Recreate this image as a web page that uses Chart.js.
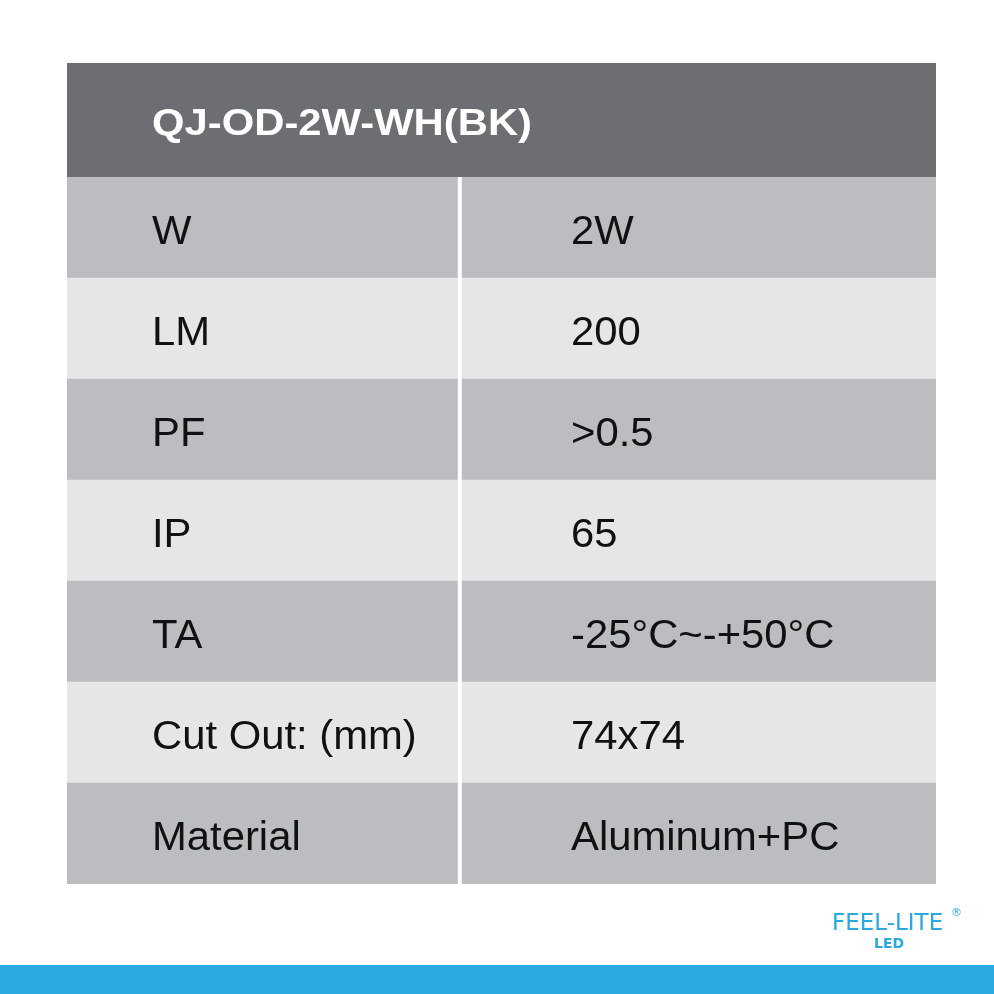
<!DOCTYPE html>
<html>
<head>
<meta charset="utf-8">
<script src="https://cdn.jsdelivr.net/npm/chart.js@4"></script>
<style>
  html, body { margin: 0; padding: 0; background: #ffffff; }
  #wrap { position: relative; width: 994px; height: 994px; }
</style>
</head>
<body>
<div id="wrap"><canvas id="specChart" width="994" height="994"></canvas></div>
<script>
const title = 'QJ-OD-2W-WH(BK)';
const rowLabels = ['W', 'LM', 'PF', 'IP', 'TA', 'Cut Out: (mm)', 'Material'];
const rowValues = ['2W', '200', '>0.5', '65', '-25°C~-+50°C', '74x74', 'Aluminum+PC'];
const labelColumn = [0.452, 0.452, 0.452, 0.452, 0.452, 0.452, 0.452];
const valueColumn = [0.548, 0.548, 0.548, 0.548, 0.548, 0.548, 0.548];

const HEADER = '#6d6e71';
const DARK = '#bcbdc0';
const LIGHT = '#e6e6e7';
const rowColors = rowLabels.map((_, i) => i % 2 === 0 ? DARK : LIGHT);

const tablePlugin = {
  id: 'spec_table',
  beforeDatasetsDraw: function(chart) {
    const ctx = chart.ctx;
    const a = chart.chartArea;
    const y = chart.scales.y;
    const headerBottom = y.getPixelForValue(0) - (y.getPixelForValue(1) - y.getPixelForValue(0)) / 2;
    ctx.save();
    ctx.fillStyle = HEADER;
    ctx.fillRect(a.left, 63, a.right - a.left, headerBottom - 63);
    ctx.fillStyle = '#ffffff';
    ctx.font = 'bold 37px "Liberation Sans", Arial, sans-serif';
    ctx.textBaseline = 'middle';
    // glyphs in the picture are a little wider than the font
    ctx.translate(152, (63 + headerBottom) / 2 + 5);
    ctx.scale(1.13, 1);
    ctx.fillText(title, 0, 0);
    ctx.restore();
  },
  afterDatasetsDraw: function(chart) {
    const ctx = chart.ctx;
    const a = chart.chartArea;
    const x = chart.scales.x;
    const y = chart.scales.y;
    const divX = x.getPixelForValue(labelColumn[0]);
    ctx.save();
    ctx.fillStyle = '#ffffff';
    ctx.fillRect(divX - 2, a.top, 4, a.bottom - a.top);
    ctx.fillStyle = '#111111';
    ctx.font = '40px "Liberation Sans", Arial, sans-serif';
    ctx.textBaseline = 'middle';
    rowLabels.forEach((lab, i) => {
      const py = y.getPixelForValue(i) + 5;
      ctx.save();
      ctx.translate(152, py);
      ctx.scale(1.045, 1);
      ctx.fillText(lab, 0, 0);
      ctx.restore();
      ctx.save();
      ctx.translate(571, py);
      ctx.scale(1.045, 1);
      ctx.fillText(rowValues[i], 0, 0);
      ctx.restore();
    });
    // logo
    ctx.fillStyle = '#29a9e0';
    ctx.textBaseline = 'alphabetic';
    ctx.font = '23px "DejaVu Sans", sans-serif';
    ctx.fillText('FEEL-LITE', 832, 930);
    ctx.font = 'bold 14px "DejaVu Sans", sans-serif';
    ctx.fillText('LED', 874, 948);
    ctx.font = '11px "DejaVu Sans", sans-serif';
    ctx.fillText('®', 951, 916);
    ctx.fillRect(0, 965, 994, 29);
    ctx.restore();
  }
};

new Chart(document.getElementById('specChart'), {
  type: 'bar',
  data: {
    labels: rowLabels,
    datasets: [
      { data: labelColumn, backgroundColor: rowColors, borderWidth: 0, barPercentage: 1, categoryPercentage: 1 },
      { data: valueColumn, backgroundColor: rowColors, borderWidth: 0, barPercentage: 1, categoryPercentage: 1 }
    ]
  },
  plugins: [tablePlugin],
  options: {
    indexAxis: 'y',
    responsive: false,
    animation: false,
    layout: { padding: { left: 67, right: 58, top: 177, bottom: 110 } },
    scales: {
      x: { stacked: true, display: false, min: 0, max: 1 },
      y: { stacked: true, display: false }
    },
    plugins: { legend: { display: false }, tooltip: { enabled: false } }
  }
});
</script>
</body>
</html>
